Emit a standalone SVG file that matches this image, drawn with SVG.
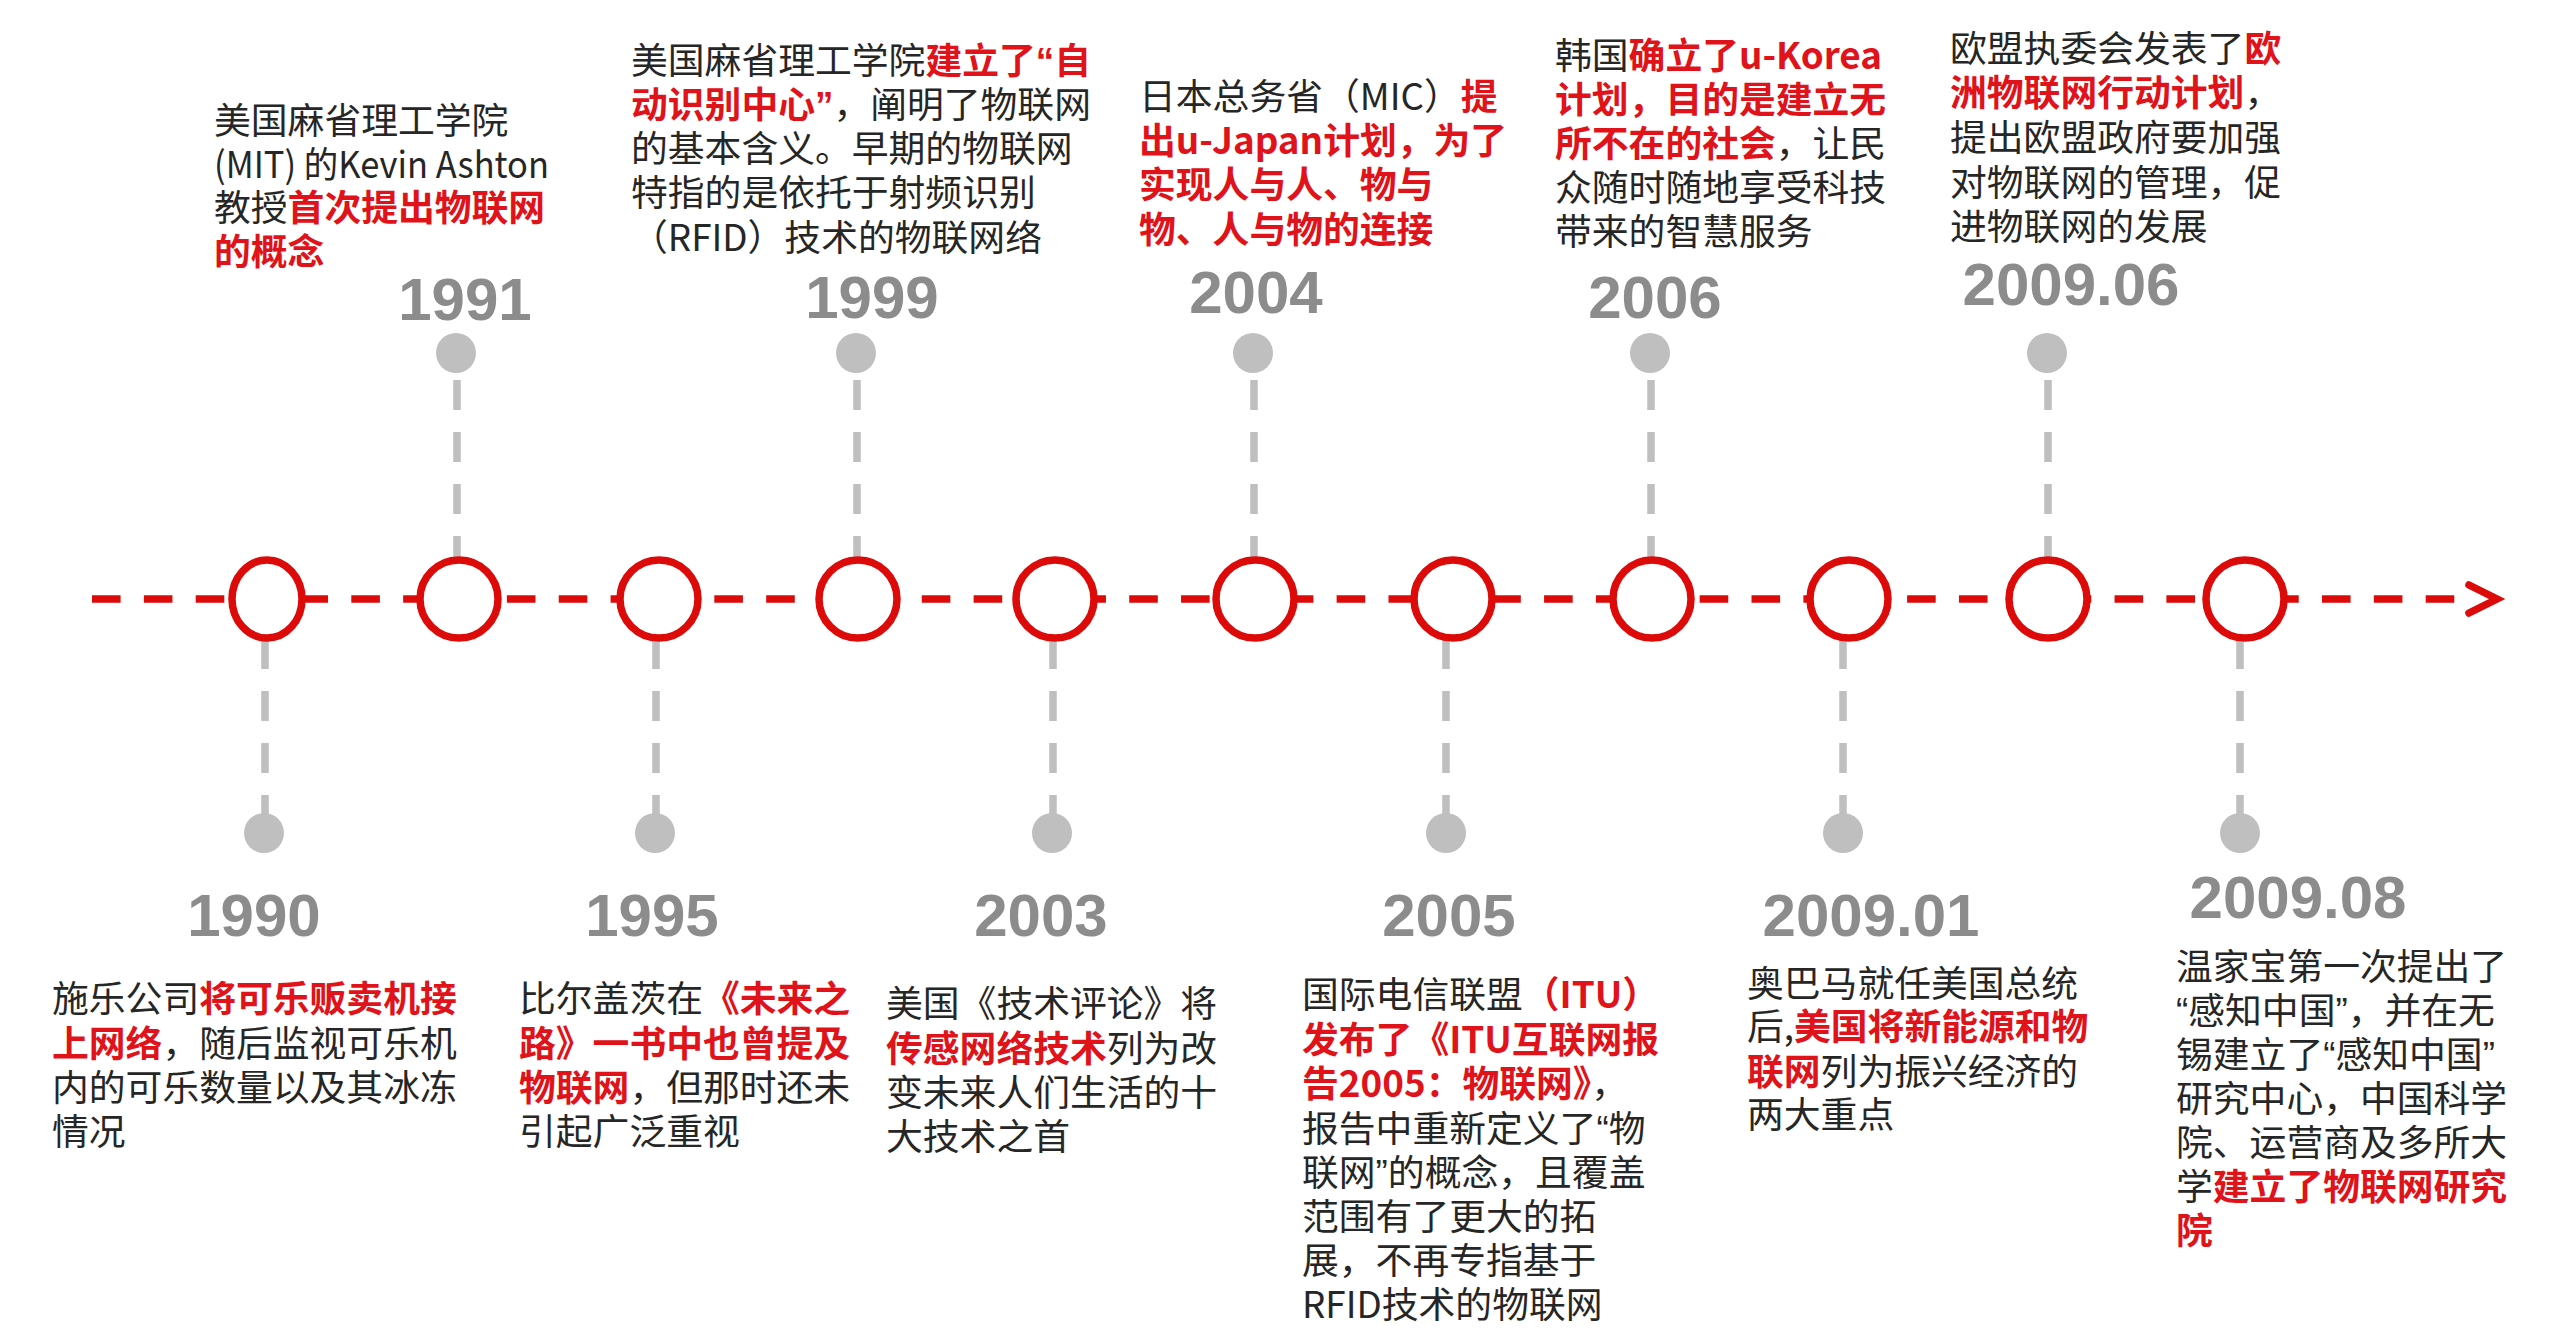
<svg xmlns="http://www.w3.org/2000/svg" width="2570" height="1338" viewBox="0 0 2570 1338">
<style>
.axis{stroke:#dd0a0a;stroke-width:7.5;stroke-dasharray:28.6 23.26;fill:none}
.head{stroke:#dd0a0a;stroke-width:7.5;fill:none;stroke-linecap:round;stroke-linejoin:miter}
.stem{stroke:#bfbfbf;stroke-width:7.5;stroke-dasharray:30 22;fill:none}
.ring{fill:#fff;stroke:#dd0a0a;stroke-width:7.5}
.dot{fill:#bfbfbf}
.yr{font-family:"Liberation Sans",Arial,sans-serif;font-weight:bold;font-size:60px;fill:#8c8c8c;text-anchor:middle}
.d{font-family:"Noto Sans CJK SC","Noto Sans",sans-serif;font-size:36.8px;fill:#262626}
.r{fill:#e0121a;font-weight:bold}
.q{font-family:"Liberation Sans",Arial,sans-serif}
</style>
<rect width="2570" height="1338" fill="#fff"/>
<g id="connectors">
<line class="axis" x1="92" y1="599" x2="2456" y2="599"/>
<path class="head" d="M2469 585 L2497 599 L2469 613"/>
<line class="stem" x1="457" y1="380" x2="457" y2="560"/>
<line class="stem" x1="857" y1="380" x2="857" y2="560"/>
<line class="stem" x1="1254" y1="380" x2="1254" y2="560"/>
<line class="stem" x1="1651" y1="380" x2="1651" y2="560"/>
<line class="stem" x1="2048" y1="380" x2="2048" y2="560"/>
<line class="stem" x1="265" y1="639" x2="265" y2="815"/>
<line class="stem" x1="656" y1="639" x2="656" y2="815"/>
<line class="stem" x1="1053" y1="639" x2="1053" y2="815"/>
<line class="stem" x1="1446" y1="639" x2="1446" y2="815"/>
<line class="stem" x1="1843" y1="639" x2="1843" y2="815"/>
<line class="stem" x1="2240" y1="639" x2="2240" y2="815"/>
</g>
<g id="e1990">
<ellipse class="ring" cx="267" cy="599" rx="35" ry="39"/>
<circle class="dot" cx="264" cy="833" r="20"/>
<text class="yr" x="254" y="936">1990</text>
<text class="d"><tspan x="52" y="1012">施乐公司<tspan class="r">将可乐贩卖机接</tspan></tspan><tspan x="52" y="1057"><tspan class="r">上网络</tspan>，随后监视可乐机</tspan><tspan x="52" y="1101">内的可乐数量以及其冰冻</tspan><tspan x="52" y="1145">情况</tspan></text>
</g>
<g id="e1991">
<circle class="ring" cx="459" cy="599" r="39"/>
<circle class="dot" cx="456" cy="353" r="20"/>
<text class="yr" x="465" y="320">1991</text>
<text class="d"><tspan x="214" y="134">美国麻省理工学院</tspan><tspan x="214" y="178" textLength="335" lengthAdjust="spacingAndGlyphs">(MIT) 的Kevin Ashton</tspan><tspan x="214" y="221">教授<tspan class="r">首次提出物联网</tspan></tspan><tspan x="214" y="265" class="r">的概念</tspan></text>
</g>
<g id="e1995">
<circle class="ring" cx="659" cy="599" r="39"/>
<circle class="dot" cx="655" cy="833" r="20"/>
<text class="yr" x="652" y="936">1995</text>
<text class="d"><tspan x="519" y="1012">比尔盖茨在<tspan class="r">《未来之</tspan></tspan><tspan x="519" y="1057" class="r">路》一书中也曾提及</tspan><tspan x="519" y="1101"><tspan class="r">物联网</tspan>，但那时还未</tspan><tspan x="519" y="1145">引起广泛重视</tspan></text>
</g>
<g id="e1999">
<circle class="ring" cx="858" cy="599" r="39"/>
<circle class="dot" cx="856" cy="353" r="20"/>
<text class="yr" x="872" y="318">1999</text>
<text class="d"><tspan x="631" y="74">美国麻省理工学院<tspan class="r">建立了<tspan class="q">“</tspan>自</tspan></tspan><tspan x="631" y="118"><tspan class="r">动识别中心<tspan class="q">”</tspan></tspan>，阐明了物联网</tspan><tspan x="631" y="162">的基本含义。早期的物联网</tspan><tspan x="631" y="206">特指的是依托于射频识别</tspan><tspan x="631" y="251">（RFID）技术的物联网络</tspan></text>
</g>
<g id="e2003">
<circle class="ring" cx="1055" cy="599" r="39"/>
<circle class="dot" cx="1052" cy="833" r="20"/>
<text class="yr" x="1041" y="936">2003</text>
<text class="d"><tspan x="886" y="1017">美国《技术评论》将</tspan><tspan x="886" y="1062"><tspan class="r">传感网络技术</tspan>列为改</tspan><tspan x="886" y="1106">变未来人们生活的十</tspan><tspan x="886" y="1150">大技术之首</tspan></text>
</g>
<g id="e2004">
<circle class="ring" cx="1255" cy="599" r="39"/>
<circle class="dot" cx="1253" cy="353" r="20"/>
<text class="yr" x="1256" y="313">2004</text>
<text class="d"><tspan x="1139" y="110">日本总务省（MIC）<tspan class="r">提</tspan></tspan><tspan x="1139" y="154" class="r">出u-Japan计划，为了</tspan><tspan x="1139" y="198" class="r">实现人与人、物与</tspan><tspan x="1139" y="243" class="r">物、人与物的连接</tspan></text>
</g>
<g id="e2005">
<circle class="ring" cx="1453" cy="599" r="39"/>
<circle class="dot" cx="1446" cy="833" r="20"/>
<text class="yr" x="1449" y="936">2005</text>
<text class="d"><tspan x="1302" y="1008">国际电信联盟<tspan class="r">（ITU）</tspan></tspan><tspan x="1302" y="1053" class="r">发布了《ITU互联网报</tspan><tspan x="1302" y="1097"><tspan class="r">告2005：物联网》</tspan>，</tspan><tspan x="1302" y="1142">报告中重新定义了<tspan class="q">“</tspan>物</tspan><tspan x="1302" y="1186">联网<tspan class="q">”</tspan>的概念，且覆盖</tspan><tspan x="1302" y="1230">范围有了更大的拓</tspan><tspan x="1302" y="1274">展，不再专指基于</tspan><tspan x="1302" y="1318">RFID技术的物联网</tspan></text>
</g>
<g id="e2006">
<circle class="ring" cx="1652" cy="599" r="39"/>
<circle class="dot" cx="1650" cy="353" r="20"/>
<text class="yr" x="1655" y="318">2006</text>
<text class="d"><tspan x="1555" y="69">韩国<tspan class="r">确立了u-Korea</tspan></tspan><tspan x="1555" y="113" class="r">计划，目的是建立无</tspan><tspan x="1555" y="157"><tspan class="r">所不在的社会</tspan>，让民</tspan><tspan x="1555" y="201">众随时随地享受科技</tspan><tspan x="1555" y="245">带来的智慧服务</tspan></text>
</g>
<g id="e2009_01">
<circle class="ring" cx="1849" cy="599" r="39"/>
<circle class="dot" cx="1843" cy="833" r="20"/>
<text class="yr" x="1871" y="936">2009.01</text>
<text class="d"><tspan x="1747" y="997">奥巴马就任美国总统</tspan><tspan x="1747" y="1040">后,<tspan class="r">美国将新能源和物</tspan></tspan><tspan x="1747" y="1085"><tspan class="r">联网</tspan>列为振兴经济的</tspan><tspan x="1747" y="1128">两大重点</tspan></text>
</g>
<g id="e2009_06">
<circle class="ring" cx="2048" cy="599" r="39"/>
<circle class="dot" cx="2047" cy="353" r="20"/>
<text class="yr" x="2071" y="305">2009.06</text>
<text class="d"><tspan x="1950" y="62">欧盟执委会发表了<tspan class="r">欧</tspan></tspan><tspan x="1950" y="106"><tspan class="r">洲物联网行动计划</tspan>，</tspan><tspan x="1950" y="151">提出欧盟政府要加强</tspan><tspan x="1950" y="196">对物联网的管理，促</tspan><tspan x="1950" y="240">进物联网的发展</tspan></text>
</g>
<g id="e2009_08">
<circle class="ring" cx="2245" cy="599" r="39"/>
<circle class="dot" cx="2240" cy="833" r="20"/>
<text class="yr" x="2298" y="918">2009.08</text>
<text class="d"><tspan x="2176" y="980">温家宝第一次提出了</tspan><tspan x="2176" y="1024"><tspan class="q">“</tspan>感知中国<tspan class="q">”</tspan>，并在无</tspan><tspan x="2176" y="1068">锡建立了<tspan class="q">“</tspan>感知中国<tspan class="q">”</tspan></tspan><tspan x="2176" y="1112">研究中心，中国科学</tspan><tspan x="2176" y="1156">院、运营商及多所大</tspan><tspan x="2176" y="1200">学<tspan class="r">建立了物联网研究</tspan></tspan><tspan x="2176" y="1244" class="r">院</tspan></text>
</g>
</svg>
